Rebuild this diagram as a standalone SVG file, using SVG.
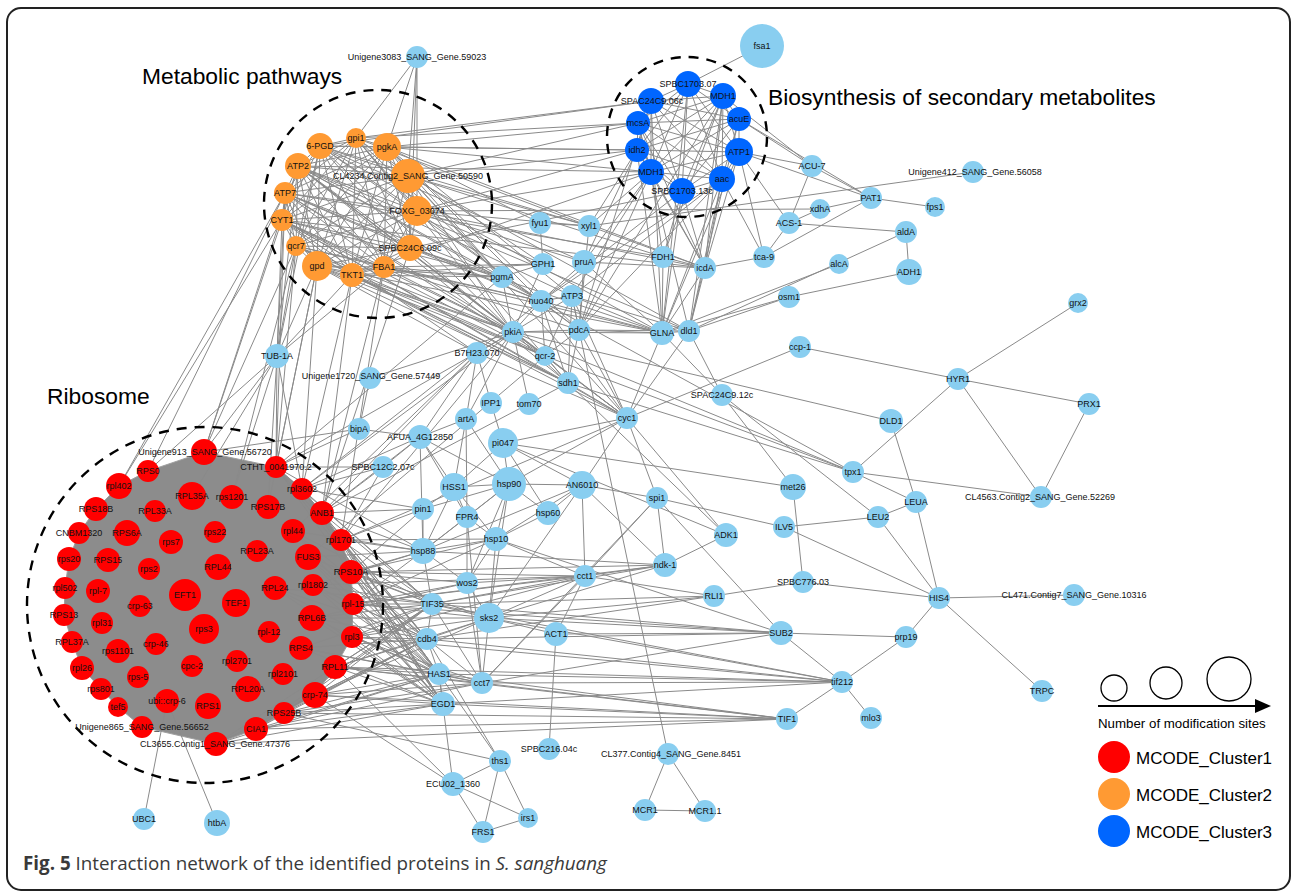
<svg xmlns="http://www.w3.org/2000/svg" width="1292" height="892" viewBox="0 0 1292 892">
<style>
.e{fill:none;stroke:#8a8a8a;stroke-width:1}
.lb{fill:#89cef0}
.rd{fill:#ff0000}
.or{fill:#ff9a33}
.bl{fill:#0066ff}
.t{font-family:"Liberation Sans",Arial,sans-serif;font-size:9px;fill:#111;text-anchor:middle}
.h{font-family:"Liberation Sans",Arial,sans-serif;font-size:22.8px;fill:#000}
.dc{fill:none;stroke:#000;stroke-width:2.4;stroke-dasharray:10 8}
.lg{fill:none;stroke:#000;stroke-width:1.3}
.ll{font-family:"Liberation Sans",Arial,sans-serif;font-size:17px;fill:#000}
</style>
<rect x="7" y="8" width="1283" height="882" rx="14" fill="#fff" stroke="#222" stroke-width="2"/>

<g id="connectors">
<polygon points="204,452 276,467 302,489 322,513 341,540 351,572 353,604 352,637 335,667 315,695 284,713 256,729 216,744 142,727 118,707 101,689 82,668 72,642 64,615 65,588 69,559 79,533 96,509 119,486 148,471" fill="#8c8c8c" stroke="#a0a0a0" stroke-width="1"/>
<path class="e" d="M688 84L723 96M688 84L651 101M688 84L638 123M688 84L739 119M688 84L637 150M688 84L739 152M688 84L651 172M688 84L682 191M688 84L722 179M723 96L651 101M723 96L638 123M723 96L739 119M723 96L637 150M723 96L739 152M723 96L651 172M723 96L682 191M723 96L722 179M651 101L638 123M651 101L739 119M651 101L637 150M651 101L739 152M651 101L651 172M651 101L682 191M651 101L722 179M638 123L739 119M638 123L637 150M638 123L739 152M638 123L651 172M638 123L682 191M638 123L722 179M739 119L637 150M739 119L739 152M739 119L651 172M739 119L682 191M739 119L722 179M637 150L739 152M637 150L651 172M637 150L682 191M637 150L722 179M739 152L651 172M739 152L682 191M739 152L722 179M651 172L682 191M651 172L722 179M682 191L722 179"/>
<path class="e" d="M762 46L688 84M723 96L812 166M739 119L812 166M739 119L871 198M739 152L871 198M739 152L812 166M739 152L764 257M739 152L789 223M739 152L705 268M739 152L662 333M723 96L705 268M723 96L663 257M723 96L689 331M722 179L705 268M722 179L689 331M722 179L662 333M722 179L579 330M722 179L764 257M722 179L572 296M722 179L541 301M682 191L705 268M682 191L662 333M682 191L663 257M682 191L541 301M651 172L589 226M651 172L584 262M651 172L663 257M651 172L705 268M651 172L572 296M651 172L579 330M637 150L589 226M637 150L705 268M637 150L584 262M637 150L662 333M638 123L705 268M638 123L689 331M651 101L662 333M651 101L579 330M739 119L689 331M688 84L662 333M723 96L579 330M973 172L589 226"/>
<path class="e" d="M320 146L651 101M356 138L651 101M356 138L638 123M387 147L638 123M387 147L637 150M408 176L637 150M408 176L638 123M298 166L651 172M417 211L651 172M417 211L637 150M320 146L637 150M410 248L682 191M352 275L651 172M387 147L651 172"/>
<path class="e" d="M320 146L356 138M320 146L387 147M320 146L408 176M320 146L298 166M320 146L285 193M320 146L282 220M320 146L296 246M320 146L317 266M320 146L417 211M320 146L410 248M320 146L352 275M320 146L384 267M356 138L387 147M356 138L408 176M356 138L298 166M356 138L285 193M356 138L282 220M356 138L296 246M356 138L317 266M356 138L417 211M356 138L410 248M356 138L352 275M356 138L384 267M387 147L408 176M387 147L298 166M387 147L285 193M387 147L282 220M387 147L296 246M387 147L317 266M387 147L417 211M387 147L410 248M387 147L352 275M387 147L384 267M408 176L298 166M408 176L285 193M408 176L282 220M408 176L296 246M408 176L317 266M408 176L417 211M408 176L410 248M408 176L352 275M408 176L384 267M298 166L285 193M298 166L282 220M298 166L296 246M298 166L317 266M298 166L417 211M298 166L410 248M298 166L352 275M298 166L384 267M285 193L282 220M285 193L296 246M285 193L317 266M285 193L417 211M285 193L410 248M285 193L352 275M285 193L384 267M282 220L296 246M282 220L317 266M282 220L417 211M282 220L410 248M282 220L352 275M282 220L384 267M296 246L317 266M296 246L417 211M296 246L410 248M296 246L352 275M296 246L384 267M317 266L417 211M317 266L410 248M317 266L352 275M317 266L384 267M417 211L410 248M417 211L352 275M417 211L384 267M410 248L352 275M410 248L384 267M352 275L384 267"/>
<path class="e" d="M417 57L356 138M417 57L408 176M417 57L417 211M417 57L410 248M417 57L387 147"/>
<path class="e" d="M320 146L584 262M320 146L589 226M320 146L541 301M320 146L513 332M320 146L662 333M356 138L502 277M356 138L543 264M356 138L589 226M356 138L513 332M356 138L568 383M387 147L540 223M387 147L502 277M387 147L541 301M387 147L572 296M387 147L579 330M387 147L705 268M408 176L502 277M408 176L513 332M408 176L589 226M408 176L689 331M408 176L627 418M408 176L663 257M298 166L502 277M298 166L541 301M298 166L513 332M298 166L572 296M298 166L545 356M298 166L568 383M298 166L627 418M298 166L689 331M285 193L513 332M285 193L545 356M285 193L541 301M285 193L502 277M285 193L663 257M282 220L513 332M282 220L545 356M282 220L568 383M282 220L627 418M282 220L477 353M282 220L502 277M282 220L705 268M296 246L513 332M296 246L545 356M296 246L568 383M296 246L541 301M317 266L502 277M317 266L513 332M317 266L477 353M317 266L545 356M317 266L662 333M317 266L568 383M417 211L543 264M417 211L589 226M417 211L584 262M417 211L579 330M417 211L705 268M417 211L820 209M410 248L502 277M410 248L541 301M410 248L513 332M410 248L662 333M352 275L502 277M352 275L513 332M352 275L543 264M352 275L545 356M352 275L627 418M352 275L568 383M384 267L502 277M384 267L513 332M384 267L543 264M384 267L541 301M384 267L579 330M384 267L662 333"/>
<path class="e" d="M277 356L298 166M277 356L285 193M277 356L282 220M277 356L296 246M277 356L317 266M277 356L320 146M277 356L352 275M277 356L384 267M277 356L204 452M277 356L148 471M277 356L276 467M277 356L302 489M277 356L268 507M277 356L232 497M277 356L192 496"/>
<path class="e" d="M282 220L119 486M285 193L148 471M282 220L204 452M296 246L204 452M317 266L276 467M317 266L302 489M352 275L322 513M384 267L322 513M352 275L302 489M298 166L204 452M296 246L276 467M384 267L341 540M317 266L268 507M410 248L322 513M296 246L232 497M285 193L276 467M285 193L119 486"/>
<path class="e" d="M513 332L276 467M513 332L302 489M477 353L322 513M541 301L302 489M502 277L276 467M568 383L322 513M545 356L308 557M627 418L341 540M477 353L293 531M513 332L341 540"/>
<path class="e" d="M513 332L541 301M513 332L572 296M513 332L579 330M513 332L545 356M513 332L568 383M513 332L477 353M513 332L627 418M513 332L662 333M513 332L502 277M513 332L543 264M513 332L529 404M541 301L572 296M541 301L579 330M541 301L545 356M541 301L568 383M541 301L662 333M541 301L502 277M541 301L627 418M572 296L579 330M572 296L545 356M572 296L568 383M572 296L662 333M572 296L689 331M572 296L627 418M579 330L568 383M579 330L545 356M579 330L662 333M579 330L689 331M579 330L627 418M545 356L568 383M545 356L627 418M568 383L627 418M543 264L502 277M543 264L540 223M540 223L589 226M584 262L662 333M584 262L705 268M584 262L579 330M584 262L541 301M589 226L705 268M589 226L579 330M663 257L705 268M663 257L662 333M705 268L662 333M705 268L689 331M662 333L689 331M662 333L627 418M689 331L627 418"/>
<path class="e" d="M477 353L491 403M477 353L420 437M477 353L627 418M477 353L466 419M491 403L503 443M627 418L582 485M627 418L503 443M627 418L657 498M627 418L726 535M627 418L800 347M627 418L509 484M466 419L509 484M466 419L420 437M466 419L467 517M466 419L454 487M466 419L513 332M420 437L359 429M420 437L454 487M420 437L383 467M420 437L509 484M420 437L467 517M420 437L423 551M359 429L370 378M370 378L513 332M503 443L509 484M503 443L582 485M503 443L454 487M503 443L793 487M503 443L548 513M454 487L509 484M454 487L467 517M454 487L423 509M454 487L423 551M454 487L496 539M509 484L582 485M509 484L548 513M509 484L496 539M509 484L467 517M509 484L467 583M509 484L423 509M509 484L423 551M509 484L489 618M582 485L548 513M582 485L496 539M582 485L585 576M582 485L657 498M582 485L665 565M582 485L489 618M582 485L423 551M467 517L496 539M467 517L467 583M467 517L423 551M467 517L482 683M496 539L423 551M496 539L467 583M496 539L585 576M496 539L548 513M496 539L489 618M423 551L423 509M423 551L467 583M423 551L432 604"/>
<path class="e" d="M585 576L665 565M585 576L489 618M585 576L482 683M585 576L657 498M585 576L556 634M585 576L467 583M585 576L432 604M585 576L714 596M657 498L784 527M657 498L781 633M657 498L665 565M657 498L482 683M665 565L726 535M665 565L489 618M665 565L423 551M665 565L432 604M489 618L556 634M489 618L482 683M489 618L432 604M489 618L427 639M489 618L467 583M556 634L549 749M482 683L439 674M482 683L427 639M482 683L432 604M482 683L467 583M432 604L427 639M427 639L439 674M439 674L443 704"/>
<path class="e" d="M453 784L315 695M453 784L335 667M453 784L439 674M427 639L500 761M439 674L500 761M284 713L500 761M500 761L453 784M500 761L483 832M500 761L528 818M453 784L483 832M453 784L528 818M483 832L528 818M144 819L167 701M217 823L167 701"/>
<path class="e" d="M800 347L958 379M958 379L1078 303M958 379L1089 404M958 379L1041 497M958 379L853 472M1089 404L1041 497M853 472L1041 497M853 472L916 502M891 421L916 502M916 502L939 598M878 517L916 502M878 517L784 527M878 517L939 598M722 395L878 517M784 527L939 598M793 487L803 582M803 582L714 596M803 582L939 598M939 598L906 637M939 598L1074 595M939 598L1042 691M781 633L906 637M781 633L842 682M906 637L842 682M842 682L787 719M842 682L871 718M668 754L645 810M668 754L705 811M645 810L705 811M668 754L572 296M891 421L513 332M853 472L513 332M853 472L545 356M853 472L568 383M853 472L541 301M689 331L722 395M722 395L793 487M726 535L568 383M726 535L503 443M662 333L722 395"/>
<path class="e" d="M812 166L871 198M812 166L789 223M871 198L935 207M871 198L820 209M871 198L764 257M820 209L789 223M789 223L906 232M906 232L909 272M906 232L689 331M839 264L662 333M909 272L789 297M789 297L689 331M789 297L662 333M764 257L705 268M764 257L789 223"/>
<path class="e" d="M322 513L432 604M341 540L432 604M351 572L432 604M353 604L432 604M352 637L432 604M335 667L432 604M315 695L432 604M284 713L432 604M256 729L432 604M312 618L432 604M301 648L432 604M313 585L432 604M308 557L432 604M302 489L432 604M276 467L432 604M216 744L432 604M293 531L432 604M275 588L432 604"/>
<path class="e" d="M322 513L427 639M341 540L427 639M351 572L427 639M353 604L427 639M352 637L427 639M335 667L427 639M315 695L427 639M284 713L427 639M256 729L427 639M312 618L427 639M301 648L427 639M313 585L427 639M308 557L427 639M302 489L427 639M276 467L427 639M216 744L427 639M293 531L427 639M275 588L427 639"/>
<path class="e" d="M322 513L443 704M341 540L443 704M351 572L443 704M353 604L443 704M352 637L443 704M335 667L443 704M315 695L443 704M284 713L443 704M256 729L443 704M312 618L443 704M301 648L443 704M313 585L443 704M308 557L443 704M302 489L443 704M276 467L443 704M216 744L443 704M293 531L443 704M275 588L443 704"/>
<path class="e" d="M322 513L439 674M341 540L439 674M351 572L439 674M353 604L439 674M352 637L439 674M335 667L439 674M315 695L439 674M284 713L439 674M256 729L439 674M312 618L439 674M301 648L439 674M313 585L439 674M308 557L439 674M302 489L439 674M276 467L439 674M216 744L439 674M293 531L439 674M275 588L439 674"/>
<path class="e" d="M322 513L423 551M341 540L423 551M351 572L423 551M308 557L423 551M313 585L423 551M353 604L423 551M276 467L423 551M293 531L423 551M322 513L423 509M341 540L423 509M351 572L423 509M302 489L423 509M322 513L383 467M302 489L383 467M276 467L383 467M341 540L383 467M322 513L420 437M302 489L420 437M276 467L359 429M204 452L359 429M353 604L489 618M352 637L489 618M351 572L489 618M335 667L489 618M312 618L489 618M315 695L489 618M352 637L482 683M335 667L482 683M315 695L482 683M284 713L482 683M301 648L482 683M256 729L482 683M351 572L496 539M341 540L496 539M353 604L496 539M353 604L585 576M351 572L585 576M352 637L585 576M313 585L585 576M351 572L665 565M353 604L665 565M353 604L467 583M351 572L467 583M312 618L467 583"/>
<path class="e" d="M443 704L787 719M315 695L787 719M284 713L787 719M256 729L787 719M335 667L787 719M439 674L787 719M482 683L787 719M216 744L787 719M427 639L842 682M335 667L842 682M352 637L842 682M432 604L842 682M489 618L842 682M443 704L842 682M482 683L842 682M439 674L842 682M489 618L781 633M432 604L781 633M427 639L781 633M556 634L781 633M496 539L781 633M353 604L781 633M482 683L781 633M489 618L714 596M432 604L714 596M427 639L714 596"/>
</g>

<circle class="dc" cx="378" cy="204" r="114"/>
<circle class="dc" cx="687" cy="137" r="80"/>
<circle class="dc" cx="205" cy="605" r="178"/>

<text class="h" x="142" y="84">Metabolic pathways</text>
<text class="h" x="768" y="105">Biosynthesis of secondary metabolites</text>
<text class="h" x="47" y="404">Ribosome</text>

<g id="n-6-PGD"><circle class="or" cx="320" cy="146" r="13"/><text class="t" x="320" y="149">6-PGD</text></g>
<g id="n-gpi1"><circle class="or" cx="356" cy="138" r="10"/><text class="t" x="356" y="141">gpi1</text></g>
<g id="n-pgkA"><circle class="or" cx="387" cy="147" r="14"/><text class="t" x="387" y="150">pgkA</text></g>
<g id="n-CL4234"><circle class="or" cx="408" cy="176" r="17"/><text class="t" x="408" y="179">CL4234.Contig2_SANG_Gene.50590</text></g>
<g id="n-ATP2"><circle class="or" cx="298" cy="166" r="13"/><text class="t" x="298" y="169">ATP2</text></g>
<g id="n-ATP7"><circle class="or" cx="285" cy="193" r="11"/><text class="t" x="285" y="196">ATP7</text></g>
<g id="n-CYT1"><circle class="or" cx="282" cy="220" r="11"/><text class="t" x="282" y="223">CYT1</text></g>
<g id="n-qcr7"><circle class="or" cx="296" cy="246" r="10"/><text class="t" x="296" y="249">qcr7</text></g>
<g id="n-gpd"><circle class="or" cx="317" cy="266" r="15"/><text class="t" x="317" y="269">gpd</text></g>
<g id="n-FOXG_03074"><circle class="or" cx="417" cy="211" r="15"/><text class="t" x="417" y="214">FOXG_03074</text></g>
<g id="n-SPBC24C6"><circle class="or" cx="410" cy="248" r="13"/><text class="t" x="410" y="251">SPBC24C6.09c</text></g>
<g id="n-TKT1"><circle class="or" cx="352" cy="275" r="12"/><text class="t" x="352" y="278">TKT1</text></g>
<g id="n-FBA1"><circle class="or" cx="384" cy="267" r="11"/><text class="t" x="384" y="270">FBA1</text></g>

<g id="n-SPBC1703-07"><circle class="bl" cx="688" cy="84" r="13"/><text class="t" x="688" y="87">SPBC1703.07</text></g>
<g id="n-MDH1-a"><circle class="bl" cx="723" cy="96" r="13"/><text class="t" x="723" y="99">MDH1</text></g>
<g id="n-SPAC24C9-06c"><circle class="bl" cx="651" cy="101" r="13"/><text class="t" x="652" y="104">SPAC24C9.06c</text></g>
<g id="n-mcsA"><circle class="bl" cx="638" cy="123" r="12"/><text class="t" x="638" y="126">mcsA</text></g>
<g id="n-acuE"><circle class="bl" cx="739" cy="119" r="12"/><text class="t" x="739" y="122">acuE</text></g>
<g id="n-idh2"><circle class="bl" cx="637" cy="150" r="12"/><text class="t" x="637" y="153">idh2</text></g>
<g id="n-ATP1"><circle class="bl" cx="739" cy="152" r="14"/><text class="t" x="739" y="155">ATP1</text></g>
<g id="n-MDH1-b"><circle class="bl" cx="651" cy="172" r="13"/><text class="t" x="651" y="175">MDH1</text></g>
<g id="n-SPBC1703-13c"><circle class="bl" cx="682" cy="191" r="13"/><text class="t" x="682" y="194">SPBC1703.13c</text></g>
<g id="n-aac"><circle class="bl" cx="722" cy="179" r="13"/><text class="t" x="722" y="182">aac</text></g>

<g id="n-Unigene3083"><circle class="lb" cx="417" cy="57" r="11"/><text class="t" x="417" y="60">Unigene3083_SANG_Gene.59023</text></g>
<g id="n-fsa1"><circle class="lb" cx="762" cy="46" r="22"/><text class="t" x="762" y="49">fsa1</text></g>
<g id="n-fyu1"><circle class="lb" cx="540" cy="223" r="11"/><text class="t" x="540" y="226">fyu1</text></g>
<g id="n-xyl1"><circle class="lb" cx="589" cy="226" r="11"/><text class="t" x="589" y="229">xyl1</text></g>
<g id="n-GPH1"><circle class="lb" cx="543" cy="264" r="11"/><text class="t" x="543" y="267">GPH1</text></g>
<g id="n-pruA"><circle class="lb" cx="584" cy="262" r="12"/><text class="t" x="584" y="265">pruA</text></g>
<g id="n-pgmA"><circle class="lb" cx="502" cy="277" r="11"/><text class="t" x="502" y="280">pgmA</text></g>
<g id="n-nuo40"><circle class="lb" cx="541" cy="301" r="11"/><text class="t" x="541" y="304">nuo40</text></g>
<g id="n-ATP3"><circle class="lb" cx="572" cy="296" r="11"/><text class="t" x="572" y="299">ATP3</text></g>
<g id="n-pkiA"><circle class="lb" cx="513" cy="332" r="11"/><text class="t" x="513" y="335">pkiA</text></g>
<g id="n-pdcA"><circle class="lb" cx="579" cy="330" r="11"/><text class="t" x="579" y="333">pdcA</text></g>
<g id="n-B7H23"><circle class="lb" cx="477" cy="353" r="11"/><text class="t" x="477" y="356">B7H23.070</text></g>
<g id="n-qcr-2"><circle class="lb" cx="545" cy="356" r="10"/><text class="t" x="545" y="359">qcr-2</text></g>
<g id="n-sdh1"><circle class="lb" cx="568" cy="383" r="11"/><text class="t" x="568" y="386">sdh1</text></g>
<g id="n-Unigene1720"><circle class="lb" cx="370" cy="378" r="11"/><text class="t" x="371" y="379">Unigene1720_SANG_Gene.57449</text></g>
<g id="n-IPP1"><circle class="lb" cx="491" cy="403" r="11"/><text class="t" x="491" y="406">IPP1</text></g>
<g id="n-tom70"><circle class="lb" cx="529" cy="404" r="11"/><text class="t" x="529" y="407">tom70</text></g>
<g id="n-cyc1"><circle class="lb" cx="627" cy="418" r="11"/><text class="t" x="627" y="421">cyc1</text></g>
<g id="n-artA"><circle class="lb" cx="466" cy="419" r="11"/><text class="t" x="466" y="422">artA</text></g>
<g id="n-bipA"><circle class="lb" cx="359" cy="429" r="11"/><text class="t" x="359" y="432">bipA</text></g>
<g id="n-AFUA"><circle class="lb" cx="420" cy="437" r="12"/><text class="t" x="420" y="440">AFUA_4G12850</text></g>
<g id="n-pi047"><circle class="lb" cx="503" cy="443" r="15"/><text class="t" x="503" y="446">pi047</text></g>
<g id="n-SPBC12C2"><circle class="lb" cx="383" cy="467" r="11"/><text class="t" x="383" y="470">SPBC12C2.07c</text></g>
<g id="n-HSS1"><circle class="lb" cx="454" cy="487" r="14"/><text class="t" x="454" y="490">HSS1</text></g>
<g id="n-hsp90"><circle class="lb" cx="509" cy="484" r="17"/><text class="t" x="509" y="487">hsp90</text></g>
<g id="n-AN6010"><circle class="lb" cx="582" cy="485" r="14"/><text class="t" x="582" y="488">AN6010</text></g>
<g id="n-pin1"><circle class="lb" cx="423" cy="509" r="11"/><text class="t" x="423" y="512">pin1</text></g>
<g id="n-FPR4"><circle class="lb" cx="467" cy="517" r="11"/><text class="t" x="467" y="520">FPR4</text></g>
<g id="n-hsp60"><circle class="lb" cx="548" cy="513" r="12"/><text class="t" x="548" y="516">hsp60</text></g>
<g id="n-hsp10"><circle class="lb" cx="496" cy="539" r="12"/><text class="t" x="496" y="542">hsp10</text></g>
<g id="n-hsp88"><circle class="lb" cx="423" cy="551" r="13"/><text class="t" x="423" y="554">hsp88</text></g>
<g id="n-cct1"><circle class="lb" cx="585" cy="576" r="11"/><text class="t" x="585" y="579">cct1</text></g>
<g id="n-wos2"><circle class="lb" cx="467" cy="583" r="11"/><text class="t" x="467" y="586">wos2</text></g>
<g id="n-spi1"><circle class="lb" cx="657" cy="498" r="11"/><text class="t" x="657" y="501">spi1</text></g>
<g id="n-met26"><circle class="lb" cx="793" cy="487" r="13"/><text class="t" x="793" y="490">met26</text></g>
<g id="n-ADK1"><circle class="lb" cx="726" cy="535" r="12"/><text class="t" x="726" y="538">ADK1</text></g>
<g id="n-ndk-1"><circle class="lb" cx="665" cy="565" r="12"/><text class="t" x="665" y="568">ndk-1</text></g>
<g id="n-ILV5"><circle class="lb" cx="784" cy="527" r="11"/><text class="t" x="784" y="530">ILV5</text></g>
<g id="n-LEU2"><circle class="lb" cx="878" cy="517" r="11"/><text class="t" x="878" y="520">LEU2</text></g>
<g id="n-LEUA"><circle class="lb" cx="916" cy="502" r="11"/><text class="t" x="916" y="505">LEUA</text></g>
<g id="n-tpx1"><circle class="lb" cx="853" cy="472" r="11"/><text class="t" x="853" y="475">tpx1</text></g>
<g id="n-DLD1"><circle class="lb" cx="891" cy="421" r="12"/><text class="t" x="891" y="424">DLD1</text></g>
<g id="n-HYR1"><circle class="lb" cx="958" cy="379" r="11"/><text class="t" x="958" y="382">HYR1</text></g>
<g id="n-ccp-1"><circle class="lb" cx="800" cy="347" r="11"/><text class="t" x="800" y="350">ccp-1</text></g>
<g id="n-SPAC24C9-12c"><circle class="lb" cx="722" cy="395" r="11"/><text class="t" x="722" y="398">SPAC24C9.12c</text></g>
<g id="n-GLNA"><circle class="lb" cx="662" cy="333" r="12"/><text class="t" x="662" y="336">GLNA</text></g>
<g id="n-dld1"><circle class="lb" cx="689" cy="331" r="11"/><text class="t" x="689" y="334">dld1</text></g>
<g id="n-osm1"><circle class="lb" cx="789" cy="297" r="11"/><text class="t" x="789" y="300">osm1</text></g>
<g id="n-grx2"><circle class="lb" cx="1078" cy="303" r="10"/><text class="t" x="1078" y="306">grx2</text></g>
<g id="n-PRX1"><circle class="lb" cx="1089" cy="404" r="11"/><text class="t" x="1089" y="407">PRX1</text></g>
<g id="n-CL4563"><circle class="lb" cx="1041" cy="497" r="11"/><text class="t" x="1040" y="500">CL4563.Contig2_SANG_Gene.52269</text></g>
<g id="n-SPBC776-03"><circle class="lb" cx="803" cy="582" r="11"/><text class="t" x="803" y="585">SPBC776.03</text></g>
<g id="n-RLI1"><circle class="lb" cx="714" cy="596" r="11"/><text class="t" x="714" y="599">RLI1</text></g>
<g id="n-HIS4"><circle class="lb" cx="939" cy="598" r="11"/><text class="t" x="939" y="601">HIS4</text></g>
<g id="n-SUB2"><circle class="lb" cx="781" cy="633" r="12"/><text class="t" x="781" y="636">SUB2</text></g>
<g id="n-prp19"><circle class="lb" cx="906" cy="637" r="11"/><text class="t" x="906" y="640">prp19</text></g>
<g id="n-tif212"><circle class="lb" cx="842" cy="682" r="11"/><text class="t" x="842" y="685">tif212</text></g>
<g id="n-TIF1"><circle class="lb" cx="787" cy="719" r="11"/><text class="t" x="787" y="722">TIF1</text></g>
<g id="n-mlo3"><circle class="lb" cx="871" cy="718" r="11"/><text class="t" x="871" y="721">mlo3</text></g>
<g id="n-CL377"><circle class="lb" cx="668" cy="754" r="11"/><text class="t" x="671" y="757">CL377.Contig4_SANG_Gene.8451</text></g>
<g id="n-MCR1"><circle class="lb" cx="645" cy="810" r="11"/><text class="t" x="645" y="813">MCR1</text></g>
<g id="n-MCR1-1"><circle class="lb" cx="705" cy="811" r="11"/><text class="t" x="705" y="814">MCR1.1</text></g>
<g id="n-CL471"><circle class="lb" cx="1074" cy="595" r="11"/><text class="t" x="1074" y="598">CL471.Contig7_SANG_Gene.10316</text></g>
<g id="n-TRPC"><circle class="lb" cx="1042" cy="691" r="11"/><text class="t" x="1042" y="694">TRPC</text></g>
<g id="n-Unigene412"><circle class="lb" cx="973" cy="172" r="11"/><text class="t" x="975" y="175">Unigene412_SANG_Gene.56058</text></g>
<g id="n-ACU-7"><circle class="lb" cx="812" cy="166" r="11"/><text class="t" x="812" y="169">ACU-7</text></g>
<g id="n-PAT1"><circle class="lb" cx="871" cy="198" r="11"/><text class="t" x="871" y="201">PAT1</text></g>
<g id="n-fps1"><circle class="lb" cx="935" cy="207" r="10"/><text class="t" x="935" y="210">fps1</text></g>
<g id="n-xdhA"><circle class="lb" cx="820" cy="209" r="10"/><text class="t" x="820" y="212">xdhA</text></g>
<g id="n-ACS-1"><circle class="lb" cx="789" cy="223" r="11"/><text class="t" x="789" y="226">ACS-1</text></g>
<g id="n-aldA"><circle class="lb" cx="906" cy="232" r="11"/><text class="t" x="906" y="235">aldA</text></g>
<g id="n-ADH1"><circle class="lb" cx="909" cy="272" r="13"/><text class="t" x="909" y="275">ADH1</text></g>
<g id="n-alcA"><circle class="lb" cx="839" cy="264" r="10"/><text class="t" x="839" y="267">alcA</text></g>
<g id="n-tca-9"><circle class="lb" cx="764" cy="257" r="11"/><text class="t" x="764" y="260">tca-9</text></g>
<g id="n-FDH1"><circle class="lb" cx="663" cy="257" r="11"/><text class="t" x="663" y="260">FDH1</text></g>
<g id="n-icdA"><circle class="lb" cx="705" cy="268" r="11"/><text class="t" x="705" y="271">icdA</text></g>
<g id="n-TUB-1A"><circle class="lb" cx="277" cy="356" r="12"/><text class="t" x="277" y="359">TUB-1A</text></g>
<g id="n-TIF35"><circle class="lb" cx="432" cy="604" r="11"/><text class="t" x="432" y="607">TIF35</text></g>
<g id="n-sks2"><circle class="lb" cx="489" cy="618" r="15"/><text class="t" x="489" y="621">sks2</text></g>
<g id="n-cdb4"><circle class="lb" cx="427" cy="639" r="11"/><text class="t" x="427" y="642">cdb4</text></g>
<g id="n-ACT1"><circle class="lb" cx="556" cy="634" r="12"/><text class="t" x="556" y="637">ACT1</text></g>
<g id="n-HAS1"><circle class="lb" cx="439" cy="674" r="11"/><text class="t" x="439" y="677">HAS1</text></g>
<g id="n-cct7"><circle class="lb" cx="482" cy="683" r="11"/><text class="t" x="482" y="686">cct7</text></g>
<g id="n-EGD1"><circle class="lb" cx="443" cy="704" r="12"/><text class="t" x="443" y="707">EGD1</text></g>
<g id="n-SPBC216-04c"><circle class="lb" cx="549" cy="749" r="11"/><text class="t" x="549" y="752">SPBC216.04c</text></g>
<g id="n-ths1"><circle class="lb" cx="500" cy="761" r="11"/><text class="t" x="500" y="764">ths1</text></g>
<g id="n-ECU02_1360"><circle class="lb" cx="453" cy="784" r="12"/><text class="t" x="453" y="787">ECU02_1360</text></g>
<g id="n-irs1"><circle class="lb" cx="528" cy="818" r="10"/><text class="t" x="528" y="821">irs1</text></g>
<g id="n-FRS1"><circle class="lb" cx="483" cy="832" r="11"/><text class="t" x="483" y="835">FRS1</text></g>
<g id="n-UBC1"><circle class="lb" cx="144" cy="819" r="11"/><text class="t" x="144" y="822">UBC1</text></g>
<g id="n-htbA"><circle class="lb" cx="217" cy="823" r="13"/><text class="t" x="217" y="826">htbA</text></g>

<g id="n-Unigene913"><circle class="rd" cx="204" cy="452" r="13"/><text class="t" x="205" y="455">Unigene913_SANG_Gene.56720</text></g>
<g id="n-CTHT"><circle class="rd" cx="276" cy="467" r="11"/><text class="t" x="276" y="470">CTHT_0041970.2</text></g>
<g id="n-RPS0"><circle class="rd" cx="148" cy="471" r="11"/><text class="t" x="148" y="474">RPS0</text></g>
<g id="n-rpl402"><circle class="rd" cx="119" cy="486" r="13"/><text class="t" x="119" y="489">rpl402</text></g>
<g id="n-rpl3602"><circle class="rd" cx="302" cy="489" r="11"/><text class="t" x="302" y="492">rpl3602</text></g>
<g id="n-RPL35A"><circle class="rd" cx="192" cy="496" r="14"/><text class="t" x="192" y="499">RPL35A</text></g>
<g id="n-rps1201"><circle class="rd" cx="232" cy="497" r="12"/><text class="t" x="232" y="500">rps1201</text></g>
<g id="n-RPS17B"><circle class="rd" cx="268" cy="507" r="12"/><text class="t" x="268" y="510">RPS17B</text></g>
<g id="n-ANB1"><circle class="rd" cx="322" cy="513" r="12"/><text class="t" x="322" y="516">ANB1</text></g>
<g id="n-RPS18B"><circle class="rd" cx="96" cy="509" r="12"/><text class="t" x="96" y="512">RPS18B</text></g>
<g id="n-RPL33A"><circle class="rd" cx="155" cy="511" r="11"/><text class="t" x="155" y="514">RPL33A</text></g>
<g id="n-CNBM1320"><circle class="rd" cx="79" cy="533" r="11"/><text class="t" x="79" y="536">CNBM1320</text></g>
<g id="n-RPS6A"><circle class="rd" cx="127" cy="533" r="13"/><text class="t" x="127" y="536">RPS6A</text></g>
<g id="n-rps7"><circle class="rd" cx="171" cy="542" r="12"/><text class="t" x="171" y="545">rps7</text></g>
<g id="n-rps22"><circle class="rd" cx="215" cy="532" r="11"/><text class="t" x="215" y="535">rps22</text></g>
<g id="n-rpl44"><circle class="rd" cx="293" cy="531" r="12"/><text class="t" x="293" y="534">rpl44</text></g>
<g id="n-RPL23A"><circle class="rd" cx="257" cy="551" r="11"/><text class="t" x="257" y="554">RPL23A</text></g>
<g id="n-FUS3"><circle class="rd" cx="308" cy="557" r="13"/><text class="t" x="308" y="560">FUS3</text></g>
<g id="n-rpl1701"><circle class="rd" cx="341" cy="540" r="11"/><text class="t" x="341" y="543">rpl1701</text></g>
<g id="n-rps20"><circle class="rd" cx="69" cy="559" r="12"/><text class="t" x="69" y="562">rps20</text></g>
<g id="n-RPS15"><circle class="rd" cx="108" cy="560" r="12"/><text class="t" x="108" y="563">RPS15</text></g>
<g id="n-rps2"><circle class="rd" cx="149" cy="569" r="11"/><text class="t" x="149" y="572">rps2</text></g>
<g id="n-RPL44"><circle class="rd" cx="218" cy="567" r="13"/><text class="t" x="218" y="570">RPL44</text></g>
<g id="n-rpl1802"><circle class="rd" cx="313" cy="585" r="11"/><text class="t" x="313" y="588">rpl1802</text></g>
<g id="n-RPS10A"><circle class="rd" cx="351" cy="572" r="12"/><text class="t" x="351" y="575">RPS10A</text></g>
<g id="n-rpl502"><circle class="rd" cx="65" cy="588" r="11"/><text class="t" x="65" y="591">rpl502</text></g>
<g id="n-rpl-7"><circle class="rd" cx="98" cy="591" r="12"/><text class="t" x="98" y="594">rpl-7</text></g>
<g id="n-EFT1"><circle class="rd" cx="185" cy="595" r="16"/><text class="t" x="185" y="598">EFT1</text></g>
<g id="n-TEF1"><circle class="rd" cx="236" cy="603" r="14"/><text class="t" x="236" y="606">TEF1</text></g>
<g id="n-RPL24"><circle class="rd" cx="275" cy="588" r="12"/><text class="t" x="275" y="591">RPL24</text></g>
<g id="n-crp-63"><circle class="rd" cx="140" cy="606" r="11"/><text class="t" x="140" y="609">crp-63</text></g>
<g id="n-RPS13"><circle class="rd" cx="64" cy="615" r="11"/><text class="t" x="64" y="618">RPS13</text></g>
<g id="n-rpl31"><circle class="rd" cx="102" cy="623" r="11"/><text class="t" x="102" y="626">rpl31</text></g>
<g id="n-rps3"><circle class="rd" cx="204" cy="629" r="15"/><text class="t" x="204" y="632">rps3</text></g>
<g id="n-RPL6B"><circle class="rd" cx="312" cy="618" r="13"/><text class="t" x="312" y="621">RPL6B</text></g>
<g id="n-rpl-12"><circle class="rd" cx="269" cy="632" r="11"/><text class="t" x="269" y="635">rpl-12</text></g>
<g id="n-RPL37A"><circle class="rd" cx="72" cy="642" r="11"/><text class="t" x="72" y="645">RPL37A</text></g>
<g id="n-rps1101"><circle class="rd" cx="118" cy="651" r="12"/><text class="t" x="118" y="654">rps1101</text></g>
<g id="n-crp-46"><circle class="rd" cx="156" cy="644" r="11"/><text class="t" x="156" y="647">crp-46</text></g>
<g id="n-RPS4"><circle class="rd" cx="301" cy="648" r="12"/><text class="t" x="301" y="651">RPS4</text></g>
<g id="n-rpl26"><circle class="rd" cx="82" cy="668" r="12"/><text class="t" x="82" y="671">rpl26</text></g>
<g id="n-cpc-2"><circle class="rd" cx="192" cy="666" r="11"/><text class="t" x="192" y="669">cpc-2</text></g>
<g id="n-rpl2701"><circle class="rd" cx="237" cy="661" r="11"/><text class="t" x="237" y="664">rpl2701</text></g>
<g id="n-rps-5"><circle class="rd" cx="138" cy="677" r="11"/><text class="t" x="138" y="680">rps-5</text></g>
<g id="n-rpl2101"><circle class="rd" cx="283" cy="674" r="11"/><text class="t" x="283" y="677">rpl2101</text></g>
<g id="n-rps801"><circle class="rd" cx="101" cy="689" r="11"/><text class="t" x="101" y="692">rps801</text></g>
<g id="n-RPL20A"><circle class="rd" cx="248" cy="689" r="13"/><text class="t" x="248" y="692">RPL20A</text></g>
<g id="n-crp-74"><circle class="rd" cx="315" cy="695" r="13"/><text class="t" x="315" y="698">crp-74</text></g>
<g id="n-tef5"><circle class="rd" cx="118" cy="707" r="10"/><text class="t" x="118" y="710">tef5</text></g>
<g id="n-ubi-crp-6"><circle class="rd" cx="167" cy="701" r="12"/><text class="t" x="167" y="704">ubi::crp-6</text></g>
<g id="n-RPS1"><circle class="rd" cx="208" cy="706" r="13"/><text class="t" x="208" y="709">RPS1</text></g>
<g id="n-RPS25B"><circle class="rd" cx="284" cy="713" r="11"/><text class="t" x="284" y="716">RPS25B</text></g>
<g id="n-Unigene865"><circle class="rd" cx="142" cy="727" r="11"/><text class="t" x="142" y="730">Unigene865_SANG_Gene.56652</text></g>
<g id="n-CIA1"><circle class="rd" cx="256" cy="729" r="12"/><text class="t" x="256" y="732">CIA1</text></g>
<g id="n-CL3655"><circle class="rd" cx="216" cy="744" r="12"/><text class="t" x="215" y="747">CL3655.Contig1_SANG_Gene.47376</text></g>
<g id="n-rpl-15"><circle class="rd" cx="353" cy="604" r="11"/><text class="t" x="353" y="607">rpl-15</text></g>
<g id="n-rpl3"><circle class="rd" cx="352" cy="637" r="11"/><text class="t" x="352" y="640">rpl3</text></g>
<g id="n-RPL11"><circle class="rd" cx="335" cy="667" r="12"/><text class="t" x="335" y="670">RPL11</text></g>

<g id="legend">
<circle class="lg" cx="1114" cy="688" r="13"/>
<circle class="lg" cx="1166" cy="683" r="16"/>
<circle class="lg" cx="1229" cy="679" r="22"/>
<line x1="1098" y1="706" x2="1258" y2="706" stroke="#000" stroke-width="2"/>
<polygon points="1255,699 1271,706 1255,713" fill="#000"/>
<text x="1098" y="728" font-family="Liberation Sans, Arial, sans-serif" font-size="13.3" fill="#000">Number of modification sites</text>
<circle cx="1114" cy="757" r="16" fill="#ff0000"/>
<text class="ll" x="1136" y="764">MCODE_Cluster1</text>
<circle cx="1114" cy="794" r="16" fill="#ff9a33"/>
<text class="ll" x="1136" y="801">MCODE_Cluster2</text>
<circle cx="1114" cy="831" r="16" fill="#0066ff"/>
<text class="ll" x="1136" y="838">MCODE_Cluster3</text>
</g>

<text x="23" y="870" font-family="Open Sans, Liberation Sans, sans-serif" font-size="18.8" fill="#3a3a3a"><tspan font-weight="bold">Fig. 5</tspan> Interaction network of the identified proteins in <tspan font-style="italic">S. sanghuang</tspan></text>
</svg>
